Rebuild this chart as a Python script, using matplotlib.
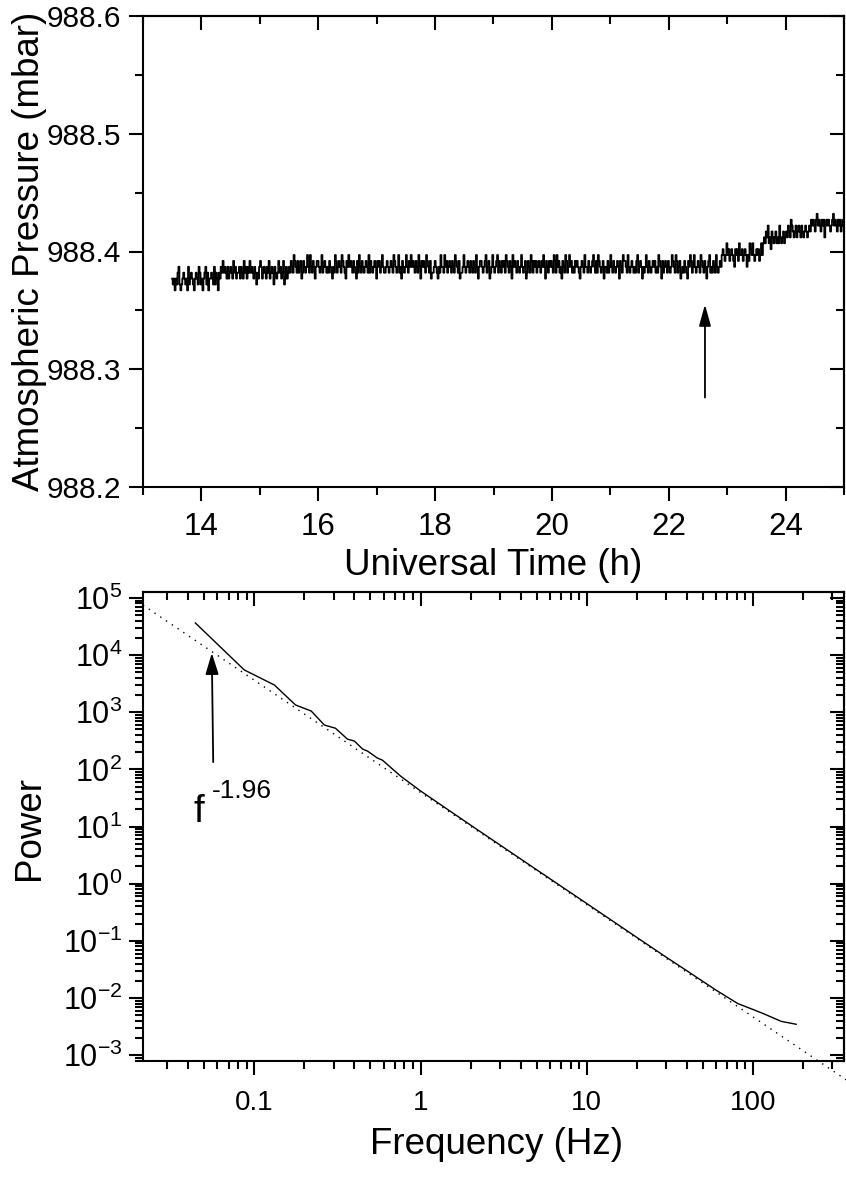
import numpy as np
import matplotlib
matplotlib.use('Agg')
import matplotlib.pyplot as plt
from matplotlib.ticker import (MultipleLocator, FormatStrFormatter, LogLocator,
                               LogFormatterMathtext, NullFormatter, FixedLocator)

plt.rcParams['font.family'] = ['Liberation Sans', 'DejaVu Sans']
plt.rcParams['mathtext.fontset'] = 'custom'
plt.rcParams['mathtext.rm'] = 'Liberation Sans'
plt.rcParams['mathtext.it'] = 'Liberation Sans:italic'
plt.rcParams['mathtext.bf'] = 'Liberation Sans:bold'

### pressure record: quantised readings, one hex digit per sample ###
pressure_base = 988.362      # level 0
pressure_step = 0.005        # one level
time_start, time_end = 13.5, 25.0
level_codes = (
    # 13.5 - 14.3 h
    "3231324521" "2343231523" "4321343254" "2313452413" "343252431"
    # 14.3 - 15.5 h
    "4354645435" "3454364534" "4535436453" "5464543542" "4356534543"
    "5463454254" "3464534623" "534"
    # 15.5 - 22.9 h
    "5465476546" "4563465457" "5475465356" "6545745654" "5465435476"
    "4565476543" "6575654654" "3647546545" "6547465456" "5365645754"
    "4565456547" "6545745365" "4575465756" "5465475365" "6547654634"
    "4565435475" "5475645654" "6547654634" "4575456546" "5465475356"
    "6545674563" "4575456746" "5465647654" "6537565465" "4575456346"
    "5476465645" "6546575365" "4656547647" "5645365476" "4575645465"
    "6543565475" "5465456754" "6476545635" "5464575465" "4565365476"
    "6547545654" "5467456535" "4575465456" "5645476536" "4565465457"
    "6547645634" "5465436576" "4575456547" "6546535674" "5465475456" "5"
    # 22.9 - 23.6 h
    "7876797867" "8765878697" "7867875769" "8797678786" "797"
    # 23.6 - 24.0 h
    "9a9bac9a8b" "a9ab9a9ca9" "ab9a"
    # 24.0 - 24.4 h
    "bacbadcbab" "cabcbacbab" "cbab"
    # 24.4 - 25.0 h
    "cbdcdcbdec" "dcbdcdacdc" "dcbcdecdcb" "dcdbcdc"
)
arrow1_time = 22.62
arrow1_tail, arrow1_tip = 988.276, 988.355

### power spectrum and f^-1.96 fit ###
freq = [0.0442, 0.087, 0.132, 0.177, 0.22, 0.264, 0.308, 0.363, 0.40, 0.448,
        0.48, 0.55, 0.59, 0.76, 1.0, 2.0, 5.0, 10.0, 20.0, 30.0, 40.0, 60.0,
        81.0, 100.0, 116.0, 148.0, 182.0]
power = [3.65e4, 5.5e3, 3.0e3, 1.34e3, 1.05e3, 597, 525, 339, 313, 227,
         209, 158, 145, 76, 42, 10.6, 1.75, 0.45, 0.115, 0.052, 0.030, 0.0137,
         8.0e-3, 6.3e-3, 5.3e-3, 3.9e-3, 3.47e-3]
fit_freq = [0.0214, 380.0]
fit_power = [7.5e4, 3.4e-4]
arrow2_tail = (0.0566, 134.0)
arrow2_tip = (0.0555, 1.09e4)

levels = np.array([int(c, 16) for c in level_codes])
pressure = pressure_base + pressure_step * levels
time_h = np.linspace(time_start, time_end, len(levels))

W, H = 846, 1177
fig = plt.figure(figsize=(W / 100, H / 100), dpi=100)

def px(x0, y0, x1, y1):
    return [x0 / W, 1 - y1 / H, (x1 - x0) / W, (y1 - y0) / H]

def style_axes(ax):
    for s in ax.spines.values():
        s.set_linewidth(1.5)
    ax.tick_params(which='major', length=10, width=1.5, direction='out')
    ax.tick_params(which='minor', length=5.5, width=1.5, direction='out')

### top panel ###
ax1 = fig.add_axes(px(143, 16, 844, 487))
ax1.plot(time_h, pressure, color='k', lw=1.3, drawstyle='steps-mid')
ax1.set_xlim(13, 25)
ax1.set_ylim(988.2, 988.6)
ax1.xaxis.set_major_locator(MultipleLocator(2))
ax1.xaxis.set_minor_locator(MultipleLocator(1))
ax1.yaxis.set_major_locator(MultipleLocator(0.1))
ax1.yaxis.set_minor_locator(MultipleLocator(0.05))
ax1.yaxis.set_major_formatter(FormatStrFormatter('%.1f'))
style_axes(ax1)
ax1.tick_params(axis='x', labelsize=22.5, pad=8)
ax1.tick_params(axis='y', labelsize=21.5, pad=6)
top1 = ax1.secondary_xaxis('top')
top1.xaxis.set_major_locator(MultipleLocator(2))
top1.xaxis.set_minor_locator(MultipleLocator(1))
right1 = ax1.secondary_yaxis('right')
right1.yaxis.set_major_locator(MultipleLocator(0.1))
right1.yaxis.set_minor_locator(MultipleLocator(0.05))
for sec in (top1, right1):
    style_axes(sec)
    sec.tick_params(which='both', direction='in', labeltop=False, labelright=False)
ax1.annotate('', xy=(arrow1_time, arrow1_tip), xytext=(arrow1_time, arrow1_tail),
             arrowprops=dict(arrowstyle='-|>,head_length=1.3,head_width=0.36',
                             mutation_scale=10, lw=1.3, color='k',
                             shrinkA=0, shrinkB=0))

### bottom panel ###
ax2 = fig.add_axes(px(143, 592, 844, 1061))
ax2.set_xscale('log')
ax2.set_yscale('log')
ax2.plot(freq, power, color='k', lw=1.0)
ax2.plot(fit_freq, fit_power, color='k', lw=1.0, linestyle=(0, (1, 4)), clip_on=False)
ax2.set_xlim(0.0214, 353)
ax2.set_ylim(7.9e-4, 1.27e5)
ax2.xaxis.set_major_locator(FixedLocator([0.1, 1, 10, 100]))
ax2.set_xticklabels(['0.1', '1', '10', '100'])
ax2.xaxis.set_minor_locator(LogLocator(base=10, subs=np.arange(2, 10), numticks=20))
ax2.xaxis.set_minor_formatter(NullFormatter())
ax2.yaxis.set_major_locator(LogLocator(base=10, numticks=20))
ax2.yaxis.set_major_formatter(LogFormatterMathtext())
ax2.yaxis.set_minor_locator(LogLocator(base=10, subs=np.arange(2, 10), numticks=20))
ax2.yaxis.set_minor_formatter(NullFormatter())
style_axes(ax2)
ax2.tick_params(axis='x', labelsize=20, pad=11)
ax2.tick_params(axis='y', labelsize=22, pad=5)
top2 = ax2.secondary_xaxis('top')
top2.xaxis.set_major_locator(FixedLocator([0.1, 1, 10, 100]))
top2.xaxis.set_minor_locator(LogLocator(base=10, subs=np.arange(2, 10), numticks=20))
right2 = ax2.secondary_yaxis('right')
right2.yaxis.set_major_locator(LogLocator(base=10, numticks=20))
right2.yaxis.set_minor_locator(LogLocator(base=10, subs=np.arange(2, 10), numticks=20))
for sec in (top2, right2):
    style_axes(sec)
    sec.tick_params(which='both', direction='in', labeltop=False, labelright=False)
    sec.xaxis.set_minor_formatter(NullFormatter())
    sec.yaxis.set_minor_formatter(NullFormatter())
ax2.annotate('', xy=arrow2_tip, xytext=arrow2_tail,
             arrowprops=dict(arrowstyle='-|>,head_length=1.3,head_width=0.4',
                             mutation_scale=10, lw=1.3, color='k',
                             shrinkA=0, shrinkB=0))
ax2.text(0.043, 11.9, 'f', fontsize=28, ha='left', va='baseline')
ax2.text(0.0558, 31.4, '-1.96', fontsize=19, ha='left', va='baseline')

### axis titles ###
fig.text(493 / W, 1 - 565 / H, 'Universal Time (h)', fontsize=26.5, ha='center', va='center')
fig.text(30 / W, 1 - 251 / H, 'Atmospheric Pressure (mbar)', fontsize=26.5,
         rotation=90, ha='center', va='center')
fig.text(496 / W, 1 - 1145 / H, 'Frequency (Hz)', fontsize=26.5, ha='center', va='center')
fig.text(30 / W, 1 - 828 / H, 'Power', fontsize=26.5, rotation=90, ha='center', va='center')

fig.savefig('out.png', dpi=100)
